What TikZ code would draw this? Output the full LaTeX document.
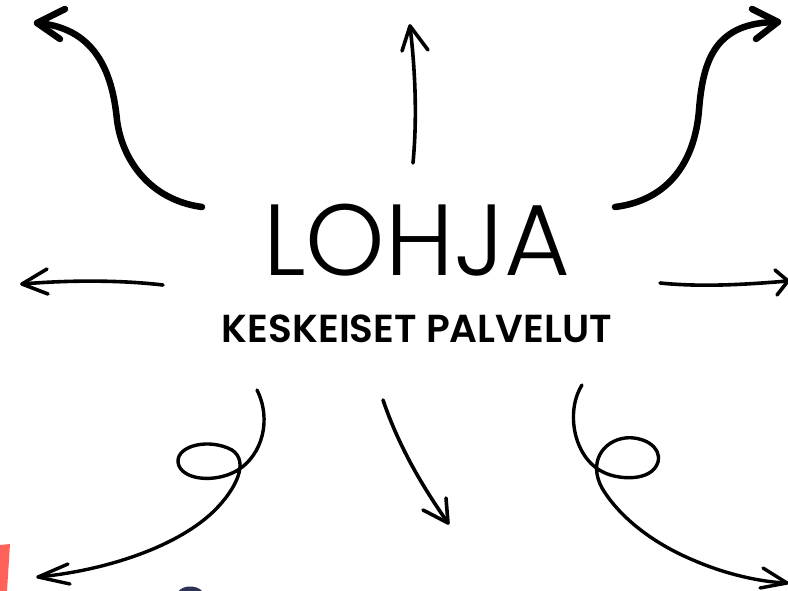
\documentclass[tikz,border=0pt]{standalone}
\usepackage{fontspec}
\usepackage{graphicx}
\newfontfamily\titlefont{Poppins}[UprightFont=* Light]
\newfontfamily\subfont{Poppins}[UprightFont=* SemiBold]
\definecolor{salmon}{HTML}{FF615B}
\definecolor{navy}{HTML}{2E3356}
\begin{document}
\begin{tikzpicture}[x=1pt,y=-1pt,
  thick arrow/.style={line width=6.5pt,line cap=round,line join=round},
  thin arrow/.style={line width=3.6pt,line cap=round,line join=round},
  loop arrow/.style={line width=3.4pt,line cap=round,line join=round}]
\useasboundingbox (0,0) rectangle (788,591);
\fill[white] (0,0) rectangle (788,591);
% corner decorations
\fill[salmon] (0,545) -- (10,544) -- (7,591) -- (0,591) -- cycle;
\fill[navy] (179,591) .. controls (183,585) and (197,585) .. (202,591) -- cycle;
% title
\node[anchor=base,inner sep=0] (title) at (417,275) {\resizebox{307pt}{!}{\titlefont LOHJA}};
\node[anchor=base,inner sep=0] (sub) at (417,342) {\resizebox{390pt}{!}{\subfont KESKEISET PALVELUT}};
% top-left
\draw[thick arrow] (202,207) .. controls (150,200) and (122,160) .. (117,120)
  .. controls (113,80) and (100,28) .. (37,23);
\draw[thick arrow] (65,9) -- (37,23) -- (60,39);
% top-right
\draw[thick arrow] (615,207) .. controls (670,200) and (695,160) .. (699,110)
  .. controls (703,60) and (715,22) .. (778,22);
\draw[thick arrow] (752,9) -- (778,22) -- (756,39);
% top middle
\draw[thin arrow] (413,163) .. controls (418,110) and (414,60) .. (410,26);
\draw[thin arrow] (402,51) -- (410,26) -- (428,50);
% left
\draw[thin arrow] (163,285) .. controls (120,280) and (70,280) .. (22,284);
\draw[thin arrow] (47,269) -- (22,284) -- (48,294);
% right
\draw[thin arrow] (660,283) .. controls (700,287) and (740,285) .. (788,281);
\draw[thin arrow] (775,270) -- (788,281) -- (777,295);
% bottom middle
\draw[thin arrow] (383,400) .. controls (400,450) and (425,490) .. (448,523);
\draw[thin arrow] (423,510) -- (448,523) -- (446,498);
% bottom-left loop
\draw[loop arrow] (257,390) .. controls (272,420) and (262,455) .. (238,470)
  .. controls (215,484) and (180,480) .. (178,462)
  .. controls (177,445) and (210,438) .. (232,450)
  .. controls (250,462) and (235,490) .. (215,510)
  .. controls (180,545) and (110,570) .. (38,577);
\draw[loop arrow] (68,564) -- (38,577) -- (70,584);
% bottom-right loop
\draw[loop arrow] (582,385) .. controls (565,412) and (574,458) .. (603,472)
  .. controls (618,480) and (652,482) .. (658,462)
  .. controls (662,446) and (642,436) .. (625,438)
  .. controls (603,441) and (588,462) .. (602,488)
  .. controls (618,515) and (650,542) .. (693,560)
  .. controls (725,574) and (760,582) .. (787,583);
\draw[loop arrow] (763,568) -- (787,583) -- (760,588);
\end{tikzpicture}
\end{document}
